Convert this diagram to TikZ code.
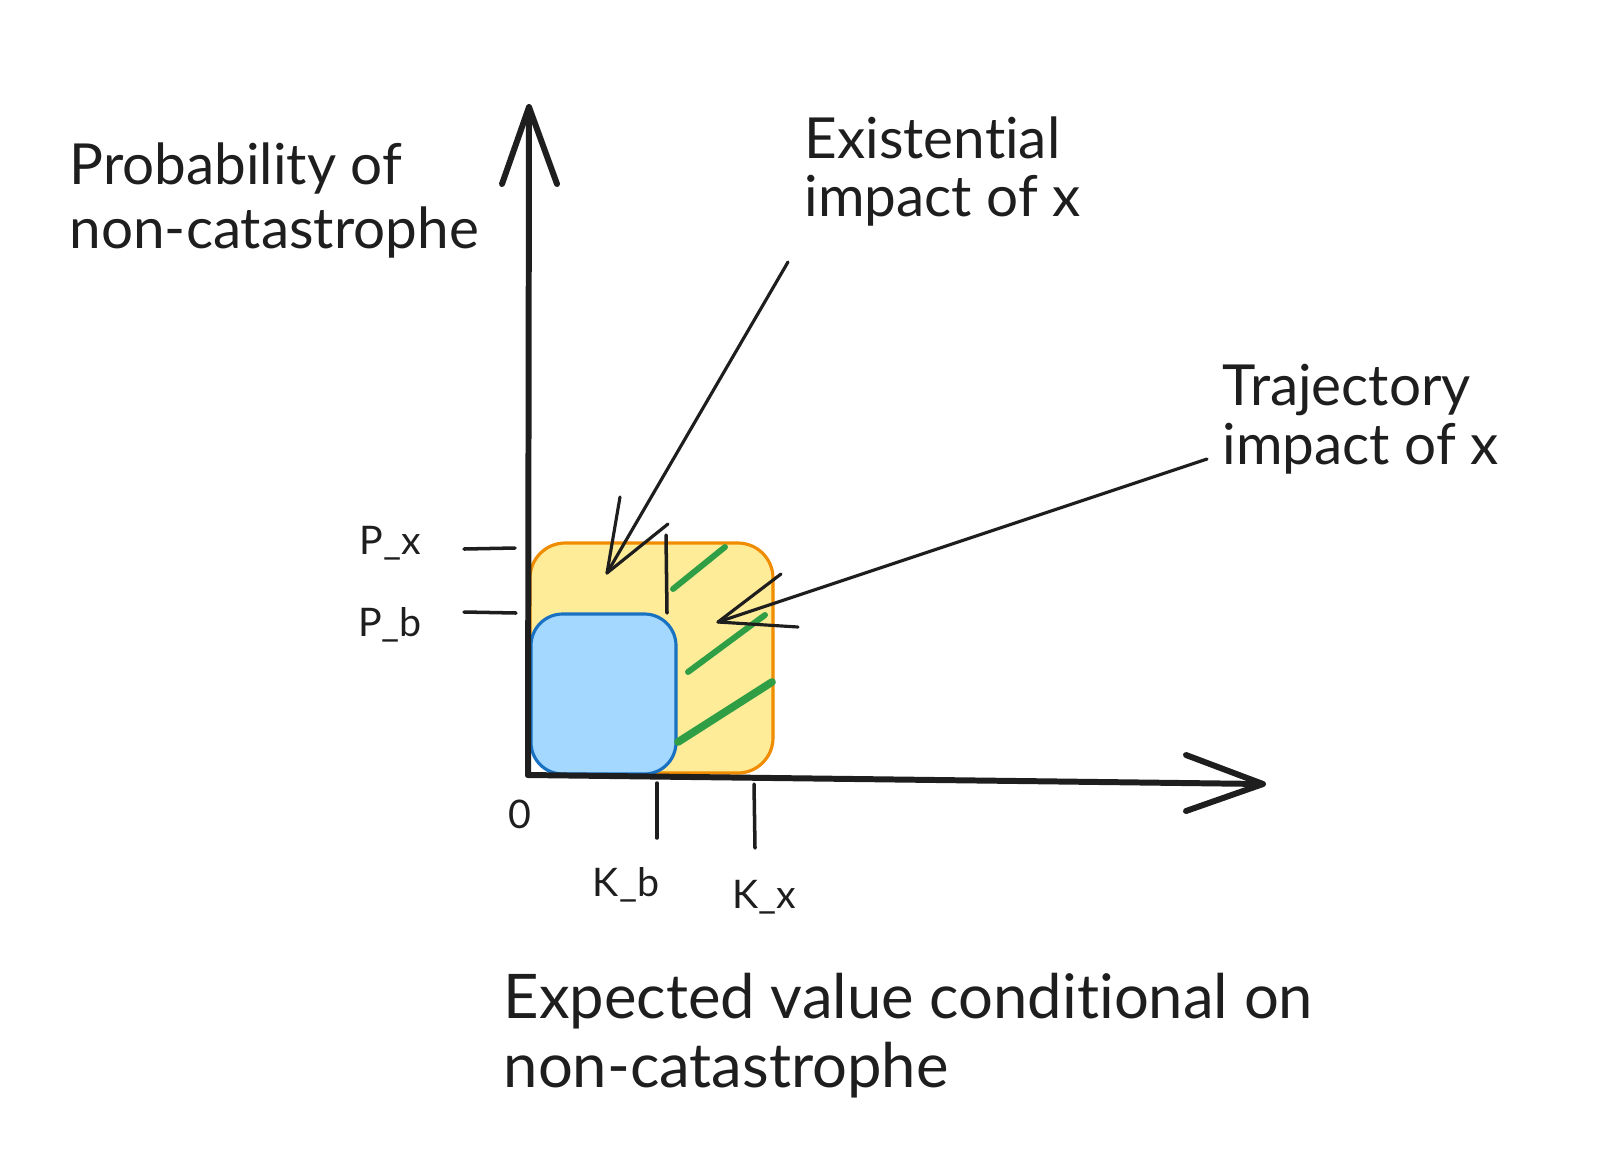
\documentclass[tikz,border=0pt]{standalone}
\usepackage{fontspec}
\setmainfont[Ligatures=NoCommon]{Lato}
\definecolor{ink}{HTML}{1E1E1E}
\definecolor{orangeline}{HTML}{F08C00}
\definecolor{yellowfill}{HTML}{FFEC99}
\definecolor{blueline}{HTML}{1971C2}
\definecolor{bluefill}{HTML}{A5D8FF}
\definecolor{greenline}{HTML}{2F9E44}
\begin{document}
\begin{tikzpicture}[x=0.01cm,y=-0.01cm,
  axisline/.style={ink, line width=1.7pt, line cap=round, line join=round},
  tickline/.style={ink, line width=1pt, line cap=round},
  pointer/.style={ink, line width=0.9pt, line cap=round, line join=round},
  hatchline/.style={greenline, line width=1.7pt, line cap=round},
  biglabel/.style={anchor=base west, inner sep=0pt, text=ink, font=\fontsize{16.1}{19}\selectfont},
  xlabel/.style={anchor=base west, inner sep=0pt, text=ink, font=\fontsize{17.5}{20}\selectfont},
  smalllabel/.style={inner sep=0pt, text=ink, font=\fontsize{11.2}{13}\selectfont}]
\useasboundingbox (0,0) rectangle (1600,1151);
% regions
\draw[orangeline, fill=yellowfill, line width=0.9pt, rounded corners=10pt] (530,543) rectangle (773,773);
\draw[blueline, fill=bluefill, line width=0.9pt, rounded corners=9pt] (531,614) rectangle (676,774);
% hatching
\draw[hatchline] (673,589) -- (725,547);
\draw[hatchline] (688,672) -- (765,615);
\draw[hatchline, line width=2.2pt] (678,742) -- (772,682);
% axes
\coordinate (origin) at (528,775);
\coordinate (ytip) at (529,107);
\coordinate (xtip) at (1263,784);
\draw[axisline] (origin) -- (ytip);
\draw[axisline] (502,184) -- (ytip) -- (557,184);
\draw[axisline] (origin) -- (xtip);
\draw[axisline] (1186,755) -- (xtip) -- (1186,811);
% ticks
\coordinate (pxa) at (464,549); \coordinate (pxb) at (515,548);
\coordinate (pba) at (464,612); \coordinate (pbb) at (516,613);
\coordinate (kta) at (666,535); \coordinate (ktb) at (667,613);
\coordinate (kba) at (657,783); \coordinate (kbb) at (657,838);
\coordinate (kxa) at (754,784); \coordinate (kxb) at (755,848);
\draw[tickline] (pxa) -- (pxb);
\draw[tickline] (pba) -- (pbb);
\draw[tickline] (kta) -- (ktb);
\draw[tickline] (kba) -- (kbb);
\draw[tickline] (kxa) -- (kxb);
% small labels
\node[smalllabel] (px) at (390,543) {P\_x};
\node[smalllabel] (pb) at (390,625) {P\_b};
\node[smalllabel] (zero) at (520,814) {0};
\node[smalllabel] (kb) at (626,885) {K\_b};
\node[smalllabel] (kx) at (764,897) {K\_x};
% big labels
\node[biglabel] (yl1) at (69,184) {Probability of};
\node[biglabel] (yl2) at (69,248) {non-catastrophe};
\node[biglabel] (el1) at (804,158) {Existential};
\node[biglabel] (el2) at (804,216) {impact of x};
\node[biglabel] (tl1) at (1222,405) {Trajectory};
\node[biglabel] (tl2) at (1222,464) {impact of x};
\node[xlabel] (xl1) at (503,1018) {Expected value conditional on};
\node[xlabel] (xl2) at (503,1087) {non-catastrophe};
% pointers
\coordinate (e0) at (788,262);
\coordinate (etip) at (607,573);
\draw[pointer] (e0) -- (etip);
\draw[pointer] (620,497) -- (etip) -- (668,524);
\coordinate (t0) at (1207,459);
\coordinate (ttip) at (718,622);
\draw[pointer] (t0) -- (ttip);
\draw[pointer] (781,574) -- (ttip) -- (798,627);
\end{tikzpicture}
\end{document}
